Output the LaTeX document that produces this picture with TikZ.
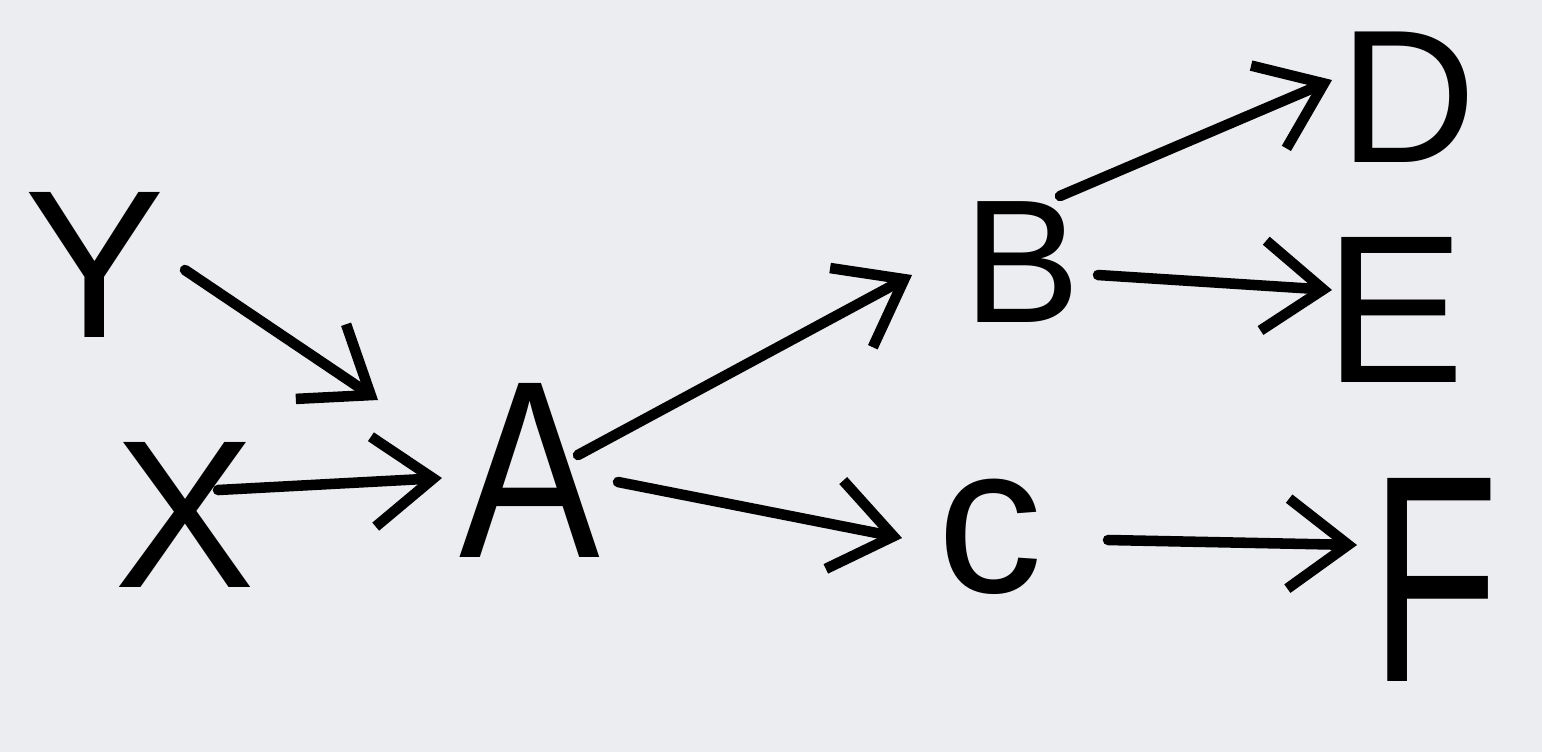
\documentclass[tikz,border=0pt]{standalone}
\usepackage{fontspec}
\setmainfont{Liberation Sans}
\usetikzlibrary{positioning,calc,arrows.meta}
\definecolor{boardgray}{RGB}{236,237,240}

\begin{document}
\begin{tikzpicture}[
    letter/.style={inner sep=0pt,font=\fontsize{60}{60}\selectfont},
    arr/.style={line width=3pt,line cap=round,line join=round,
        -{Straight Barb[length=6mm,width=9mm,line width=3pt]}}
]
    % canvas
    \fill[boardgray] (0,0) rectangle (15.42,7.52);
    \useasboundingbox (0,0) rectangle (15.42,7.52);

    % letters
    \node[letter] (Y) at (0.95,4.87) {Y};
    \node[letter] (X) at (1.85,2.37) {X};
    \node[letter,yscale=1.2,transform shape] (A) at (5.30,2.82) {A};
    \node[letter,font=\fontsize{50}{50}\selectfont] (B) at (10.22,4.90) {B};
    \node[letter] (C) at (9.90,2.15) {c};
    \node[letter,font=\fontsize{54}{54}\selectfont] (D) at (14.08,6.55) {D};
    \node[letter] (E) at (13.95,4.42) {E};
    \node[letter,yscale=1.4,transform shape] (F) at (14.35,1.72) {F};

    % arrows
    \draw[arr] ($(Y)+(0.90,-0.05)$) -- ($(A)+(-1.52,0.70)$);
    \draw[arr] ($(X)+(0.33,0.25)$) -- ($(A)+(-0.88,-0.08)$);
    \draw[arr] ($(A)+(0.48,0.15)$) -- ($(B)+(-1.10,-0.13)$);
    \draw[arr] ($(A)+(0.88,-0.12)$) -- ($(C)+(-0.88,-0.01)$);
    \draw[arr] ($(B)+(0.38,0.66)$) -- ($(D)+(-0.76,0.17)$);
    \draw[arr] ($(B)+(0.76,-0.13)$) -- ($(E)+(-0.63,0.20)$);
    \draw[arr] ($(C)+(1.18,-0.03)$) -- ($(F)+(-0.78,0.35)$);
\end{tikzpicture}
\end{document}
